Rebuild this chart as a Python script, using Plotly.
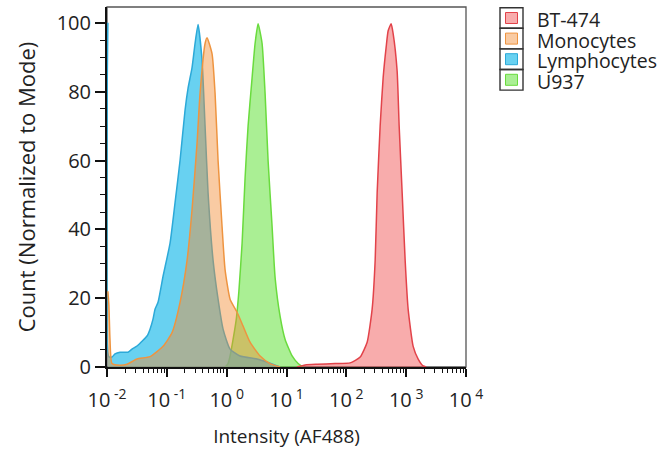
import plotly.graph_objects as go

# ---------------- data ----------------
series_names = ["BT-474", "Monocytes", "Lymphocytes", "U937"]

lymph_x = [0.01035, 0.01075, 0.01213, 0.01361, 0.01649, 0.02244, 0.02617, 0.03175,
           0.03848, 0.04666, 0.0524, 0.05875, 0.06353, 0.07129, 0.08636, 0.1132,
           0.1371, 0.1663, 0.2015, 0.2264, 0.2638, 0.2962, 0.3326, 0.3881, 0.4355,
           0.4888, 0.5929, 0.7184, 0.8706, 1.14, 1.675, 3.223, 4.74, 7.82]
lymph_y = [100, 3, 2.9, 3.8, 4.3, 4.3, 5.2, 6.1, 7.5, 9, 11, 13.9, 16.8, 18.8, 26.3, 36,
           47.7, 60, 74.6, 81, 87, 94, 99.5, 89, 70, 50.6, 31, 19.7, 11, 5.2, 3.2, 2.3,
           1.4, 0]

mono_x = [0.01035, 0.01075, 0.01122, 0.01213, 0.01649, 0.02159, 0.03175, 0.0524,
          0.08636, 0.1222, 0.1663, 0.2178, 0.2638, 0.3198, 0.359, 0.4355, 0.4701,
          0.5702, 0.6401, 0.7184, 0.8375, 0.94, 1.14, 1.493, 1.879, 2.46, 3.62,
          5.32, 7.82]
mono_y = [22, 18, 8, 1, 0.5, 0.8, 2.3, 3, 6, 10, 18.8, 31, 45.7, 65, 79.5, 94, 95.7,
          91, 79.5, 60, 40.8, 28.3, 19.7, 15.9, 11.9, 7.2, 3.2, 1, 0]

u937_x = [0.94, 1.055, 1.14, 1.28, 1.45, 1.60, 1.811, 2.032, 2.28, 2.66, 2.985, 3.35,
          3.908, 4.385, 4.922, 5.743, 6.445, 7.82, 9.48, 12.41, 15.63, 18.95]
u937_y = [0, 1, 3.2, 8, 14, 22, 36, 55, 70, 84, 94, 99.7, 94, 79.5, 60, 40.8, 26,
          14.7, 8, 3.2, 1, 0]

bt474_x = [15.0, 20.5, 32.5, 65.0, 115.8, 170.3, 222.8, 270.0, 303.3, 327.5, 367.4,
           412.2, 463.4, 500.0, 561.0, 606.7, 706.3, 763.8, 857.0, 961.6, 1079,
           1309, 1588, 1923, 2158]
bt474_y = [0, 0.6, 0.8, 1.0, 1.2, 2.9, 7.2, 16.8, 31, 50.6, 70, 84, 93, 97.7, 99.7,
           96.8, 86, 70, 50.6, 31, 16.8, 6, 2.3, 0.3, 0]

x_tickvals = [0.01, 0.1, 1, 10, 100, 1000, 10000]
x_ticktext = ["10<sup> -2</sup>", "10<sup> -1</sup>", "10<sup> 0</sup>", "10<sup> 1</sup>",
              "10<sup> 2</sup>", "10<sup> 3</sup>", "10<sup> 4</sup>"]
y_tickvals = [0, 20, 40, 60, 80, 100]

# ---------------- styles ----------------
FONT = "Open Sans"
styles = {
    "BT-474": dict(line="#E2434A", fill="rgba(240,70,70,0.45)"),
    "Monocytes": dict(line="#EE9440", fill="rgba(242,140,50,0.45)"),
    "Lymphocytes": dict(line="#2CA9D8", fill="rgba(40,190,235,0.70)"),
    "U937": dict(line="#6ADB3E", fill="rgba(100,225,60,0.55)"),
}
data = {
    "BT-474": (bt474_x, bt474_y),
    "Monocytes": (mono_x, mono_y),
    "Lymphocytes": (lymph_x, lymph_y),
    "U937": (u937_x, u937_y),
}

fig = go.Figure()
for name in ["U937", "Lymphocytes", "Monocytes", "BT-474"]:
    xs, ys = data[name]
    fig.add_trace(go.Scatter(
        x=xs, y=ys, name=name, mode="lines", fill="tozeroy",
        line=dict(color=styles[name]["line"], width=1.5, shape="spline", smoothing=0.5),
        fillcolor=styles[name]["fill"], showlegend=False, hoverinfo="x+y+name",
    ))

W, H = 667, 453
L, R, T, B = 107, 201, 7, 86
pw, ph = W - L - R, H - T - B


def xp(px):
    return (px - L) / pw


def yp(py):
    return (H - B - py) / ph


shapes = [dict(type="rect", xref="paper", yref="paper", x0=0, x1=1, y0=0, y1=1,
               line=dict(color="#555555", width=1.3), layer="below")]
annotations = []
box_top, box_h = 7.7, 20.6
for i, name in enumerate(series_names):
    y0 = box_top + i * box_h
    y1 = y0 + box_h
    cy = (y0 + y1) / 2
    shapes.append(dict(type="rect", xref="paper", yref="paper",
                       x0=xp(500), x1=xp(523), y0=yp(y1), y1=yp(y0),
                       line=dict(color="#333333", width=1.4)))
    shapes.append(dict(type="rect", xref="paper", yref="paper",
                       x0=xp(505.5), x1=xp(517.5), y0=yp(cy + 5.5), y1=yp(cy - 5.5),
                       line=dict(color=styles[name]["line"], width=1),
                       fillcolor=styles[name]["fill"]))
    annotations.append(dict(text=name, xref="paper", yref="paper", x=xp(535), y=yp(cy + 1.5),
                            xanchor="left", yanchor="middle", showarrow=False,
                            font=dict(family=FONT, size=19.5, color="#222222")))

fig.update_layout(
    width=W, height=H,
    margin=dict(l=L, r=R, t=T, b=B),
    paper_bgcolor="white", plot_bgcolor="white",
    font=dict(family=FONT, size=20, color="#222222"),
    showlegend=False,
    shapes=shapes, annotations=annotations,
    xaxis=dict(
        type="log", range=[-2, 4], tickmode="array", tickvals=x_tickvals, ticktext=x_ticktext,
        ticks="outside", ticklen=8, tickwidth=2, tickcolor="#111111",
        showline=True, linecolor="#111111", linewidth=2, mirror=False,
        showgrid=False, zeroline=False, automargin=False, ticklabelstandoff=6,
        tickfont=dict(family=FONT, size=20, color="#222222"),
        minor=dict(ticks="outside", ticklen=4, tickwidth=1, tickcolor="#111111",
                   dtick="D1", showgrid=False),
        title=dict(text="Intensity (AF488)", font=dict(family=FONT, size=19, color="#222222"),
                   standoff=18),
    ),
    yaxis=dict(
        range=[0, 104.6], tickmode="array", tickvals=y_tickvals,
        ticks="outside", ticklen=10, tickwidth=2, tickcolor="#111111",
        showline=True, linecolor="#111111", linewidth=2, mirror=False,
        showgrid=False, zeroline=False, automargin=False,
        tickfont=dict(family=FONT, size=20, color="#222222"),
        minor=dict(ticks="outside", ticklen=5, tickwidth=1, tickcolor="#111111",
                   dtick=5, tick0=0, showgrid=False),
        title=dict(text="Count (Normalized to Mode)", font=dict(family=FONT, size=22, color="#222222"),
                   standoff=15),
    ),
)

fig.write_html("out.html", config={"displayModeBar": False},
               post_script="document.body.style.margin='0px';")
